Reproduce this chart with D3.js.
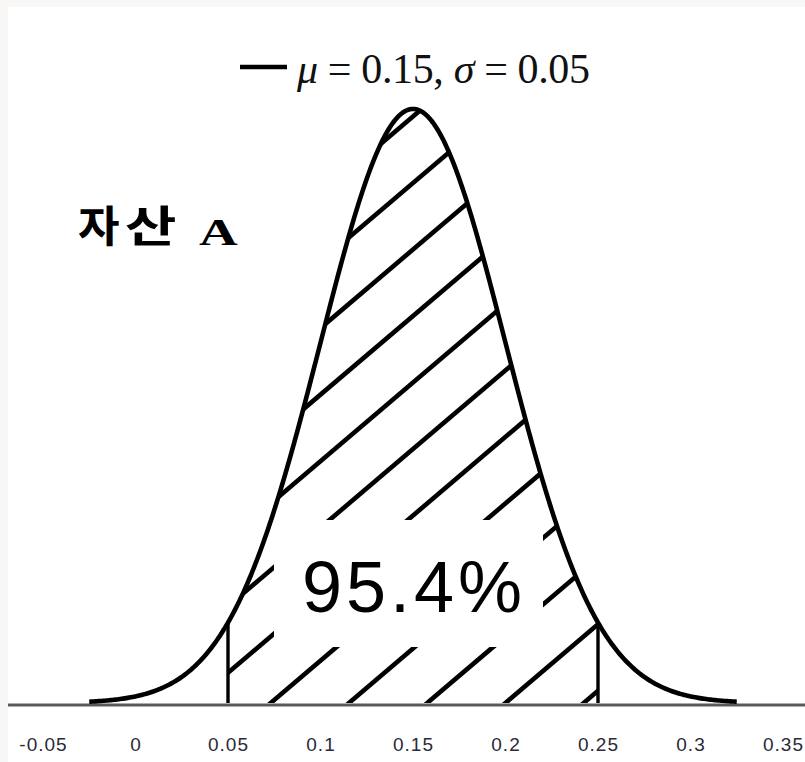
<!DOCTYPE html>
<html>
<head>
<meta charset="utf-8">
<script src="https://cdn.jsdelivr.net/npm/d3@7"></script>
<style>
  html, body { margin: 0; padding: 0; background: #f8f7f5; }
  svg { display: block; }
</style>
</head>
<body>
<svg id="chart" width="805" height="762"></svg>
<script>
// Normal distribution parameters
const mu = 0.15;
const sigma = 0.05;

// x-axis ticks and their labels
const xTicks = [-0.05, 0, 0.05, 0.1, 0.15, 0.2, 0.25, 0.3, 0.35];
const xTickLabels = ["-0.05", "0", "0.05", "0.1", "0.15", "0.2", "0.25", "0.3", "0.35"];

// Shaded interval (mu ± 2 sigma) and its probability label
const shadeFrom = [0.05, 0.25];
const shadeLabel = "95.4%";

// Curve drawn out to this many standard deviations on each side
const curveSpanSigmas = 3.5;

// Title and legend text
const titleKo = ["자", "산"];
const titleLatin = "A";
const legendParts = [
  { t: "μ", italic: true },
  { t: " = 0.15, ", italic: false },
  { t: "σ", italic: true },
  { t: " = 0.05", italic: false }
];

const W = 805, H = 762;
const svg = d3.select("#chart");

// white plotting canvas over the light frame
svg.append("rect").attr("x", 8).attr("y", 7).attr("width", W - 8).attr("height", H - 7).attr("fill", "#ffffff");

const x = d3.scaleLinear().domain([-0.05, 0.35]).range([43, 783]);
const y = d3.scaleLinear().domain([0, 8]).range([703, 107.4]);

const pdf = v => Math.exp(-0.5 * ((v - mu) / sigma) ** 2) / (sigma * Math.sqrt(2 * Math.PI));

const step = sigma / 60;
const curvePts = d3.range(mu - curveSpanSigmas * sigma, mu + curveSpanSigmas * sigma + step / 2, step).map(v => [v, pdf(v)]);
const shadePts = d3.range(shadeFrom[0], shadeFrom[1] + step / 2, step).map(v => [v, pdf(v)]);

// axis baseline
svg.append("line")
  .attr("x1", 8).attr("x2", W)
  .attr("y1", 705).attr("y2", 705)
  .attr("stroke", "#5a5a5a").attr("stroke-width", 3);

// clip region: area under the curve over the shaded interval
const area = d3.area().x(d => x(d[0])).y0(y(0)).y1(d => y(d[1]));
svg.append("clipPath").attr("id", "shadeClip")
  .append("path").attr("d", area(shadePts));

// diagonal hatching inside the shaded region
const hatchSlope = 0.85;      // rise over run
const hatchPeriod = 78.25;    // horizontal spacing between hatch lines
const hatchOffset = 550;      // phase of the hatch family
const hatchG = svg.append("g").attr("clip-path", "url(#shadeClip)");
const yTop = 80, yBot = 720;
for (let c = hatchOffset - 10 * hatchPeriod; c < hatchOffset + 12 * hatchPeriod; c += hatchPeriod) {
  hatchG.append("line")
    .attr("x1", c - yBot / hatchSlope).attr("y1", yBot)
    .attr("x2", c - yTop / hatchSlope).attr("y2", yTop)
    .attr("stroke", "#000").attr("stroke-width", 4.6);
}

// probability label on a white box that interrupts the hatching
const labelG = svg.append("g");
const boxRect = labelG.append("rect").attr("fill", "#fff");
const pctText = labelG.append("text")
  .attr("x", 302).attr("y", 612)
  .attr("font-family", "Liberation Sans, Arial, sans-serif")
  .attr("font-size", 72)
  .attr("textLength", 220)
  .attr("lengthAdjust", "spacing")
  .attr("fill", "#000")
  .text(shadeLabel);
const bb = pctText.node().getBBox();
boxRect.attr("x", bb.x - 28).attr("y", bb.y - 27)
  .attr("width", bb.width + 49).attr("height", bb.height + 47);

// vertical bounds of the shaded interval
svg.selectAll(".bound").data(shadeFrom).join("line")
  .attr("class", "bound")
  .attr("x1", d => x(d)).attr("x2", d => x(d))
  .attr("y1", y(0)).attr("y2", d => y(pdf(d)))
  .attr("stroke", "#000").attr("stroke-width", 3.4);

// density curve
const line = d3.line().x(d => x(d[0])).y(d => y(d[1]));
svg.append("path").attr("d", line(curvePts))
  .attr("fill", "none").attr("stroke", "#000")
  .attr("stroke-width", 4.6).attr("stroke-linejoin", "round");

// x-axis tick labels
const axis = d3.axisBottom(x)
  .tickValues(xTicks)
  .tickFormat((d, i) => xTickLabels[i])
  .tickSize(0)
  .tickPadding(33);
const axG = svg.append("g").attr("transform", "translate(0,705)").call(axis);
axG.select(".domain").remove();
axG.selectAll("text")
  .attr("font-family", "Liberation Sans, Arial, sans-serif")
  .attr("font-size", 19)
  .attr("letter-spacing", 1)
  .attr("fill", "#2a2a3a");

// legend
svg.append("line")
  .attr("x1", 240).attr("x2", 287).attr("y1", 67).attr("y2", 67)
  .attr("stroke", "#000").attr("stroke-width", 4.5);
const legText = svg.append("text")
  .attr("x", 297).attr("y", 83)
  .attr("font-family", "Liberation Serif, Times New Roman, serif")
  .attr("font-size", 42)
  .attr("textLength", 293)
  .attr("lengthAdjust", "spacing")
  .attr("fill", "#111");
legendParts.forEach(p => {
  legText.append("tspan").attr("font-style", p.italic ? "italic" : "normal").text(p.t);
});

// title: Korean syllables followed by a bold serif letter
const koPos = [{ x: 78, sx: 1.05 }, { x: 125, sx: 1.3 }];
titleKo.forEach((ch, i) => {
  svg.append("text")
    .attr("transform", `translate(${koPos[i].x},242) scale(${koPos[i].sx},1)`)
    .attr("font-family", "Noto Sans CJK KR, sans-serif")
    .attr("font-weight", 700)
    .attr("font-size", 43)
    .attr("fill", "#000")
    .text(ch);
});
svg.append("text")
  .attr("transform", "translate(199,245) scale(1.45,1)")
  .attr("font-family", "Liberation Serif, Times New Roman, serif")
  .attr("font-weight", 700)
  .attr("font-size", 37)
  .attr("fill", "#000")
  .text(titleLatin);
</script>
</body>
</html>
